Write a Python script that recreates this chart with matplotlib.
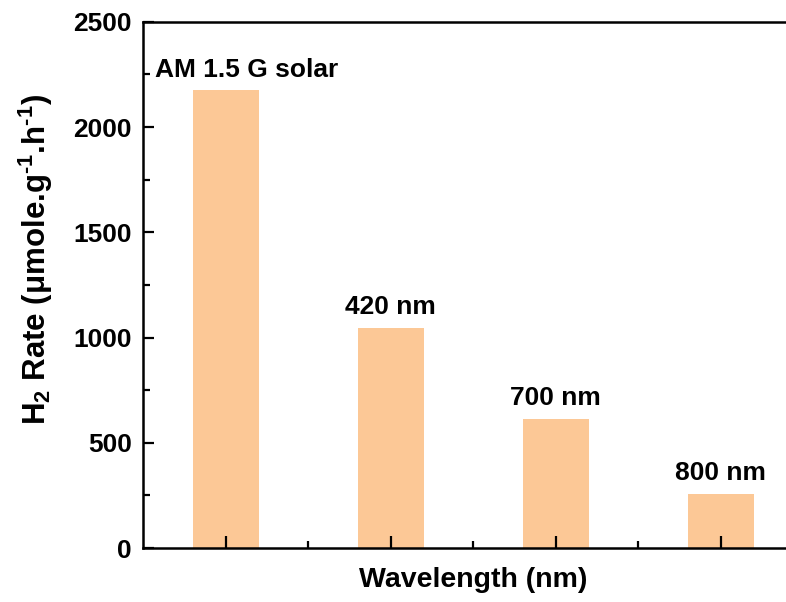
import matplotlib
matplotlib.use("Agg")
import matplotlib.pyplot as plt
from matplotlib.ticker import MultipleLocator, FixedLocator

plt.rcParams["font.family"] = ["Liberation Sans", "DejaVu Sans"]
plt.rcParams["font.weight"] = "bold"
plt.rcParams["mathtext.fontset"] = "custom"
plt.rcParams["mathtext.rm"] = "Liberation Sans:bold"
plt.rcParams["mathtext.default"] = "rm"

# light sources and measured H2 evolution rates
sources = ["AM 1.5 G solar", "420 nm", "700 nm", "800 nm"]
rates = [2175, 1045, 615, 257]

BAR_COLOR = "#FCC896"

fig = plt.figure(figsize=(7.86, 6.02), dpi=100)
ax = fig.add_axes([0.182, 0.0897, 0.84, 0.874])

pos = list(range(1, len(rates) + 1))
ax.bar(pos, rates, width=0.4, color=BAR_COLOR, zorder=1)

for i, (p, r, s) in enumerate(zip(pos, rates, sources)):
    if i == 0:
        ax.text(p - 0.427, r + 62, s, ha="left", va="baseline",
                fontsize=19, fontweight="bold")
    else:
        ax.text(p, r + 65, s, ha="center", va="baseline",
                fontsize=19, fontweight="bold")

ax.set_xlim(0.5, 4.5)
ax.set_ylim(0, 2500)

ax.xaxis.set_major_locator(FixedLocator(pos))
ax.xaxis.set_minor_locator(FixedLocator([p + 0.5 for p in pos[:-1]]))
ax.set_xticklabels([])
ax.yaxis.set_major_locator(MultipleLocator(500))
ax.yaxis.set_minor_locator(MultipleLocator(250))

ax.tick_params(axis="both", which="both", direction="in", width=1.6)
ax.tick_params(axis="x", which="major", length=9)
ax.tick_params(axis="x", which="minor", length=5)
ax.tick_params(axis="y", which="major", length=8, labelsize=19, pad=8)
ax.tick_params(axis="y", which="minor", length=5)
for lab in ax.get_yticklabels():
    lab.set_fontweight("bold")

for side in ["left", "bottom", "top"]:
    ax.spines[side].set_linewidth(1.8)
ax.spines["right"].set_visible(False)

ax.set_xlabel("Wavelength (nm)", fontsize=20.5, fontweight="bold", labelpad=10)
ax.set_ylabel(r"H$_2$ Rate ($\mu$mole.g$^{\text{-}1}$.h$^{\text{-}1}$)",
              fontsize=22.5, fontweight="bold")
ax.yaxis.set_label_coords(-0.133, 0.548)

fig.savefig("out.png", dpi=100)
